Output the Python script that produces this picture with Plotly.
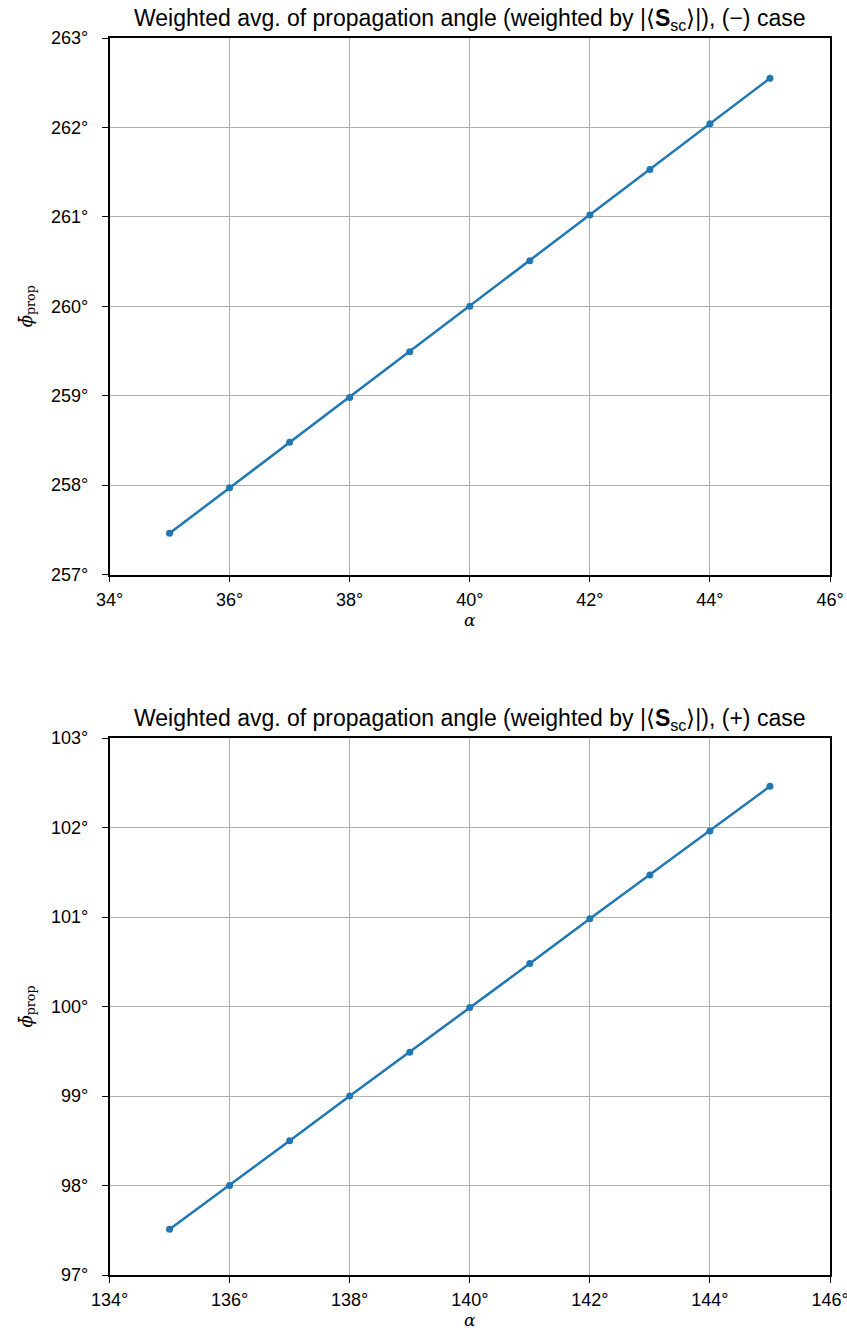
import plotly.graph_objects as go
from plotly.subplots import make_subplots

alpha_minus = [35, 36, 37, 38, 39, 40, 41, 42, 43, 44, 45]
phi_minus = [257.46, 257.97, 258.48, 258.98, 259.49, 260.00, 260.51, 261.02, 261.53, 262.04, 262.55]
alpha_plus = [135, 136, 137, 138, 139, 140, 141, 142, 143, 144, 145]
phi_plus = [97.51, 98.00, 98.50, 99.00, 99.49, 99.99, 100.48, 100.98, 101.47, 101.96, 102.46]

xticks_minus = [34, 36, 38, 40, 42, 44, 46]
yticks_minus = [257, 258, 259, 260, 261, 262, 263]
xticks_plus = [134, 136, 138, 140, 142, 144, 146]
yticks_plus = [97, 98, 99, 100, 101, 102, 103]

titles = [
    "Weighted avg. of propagation angle (weighted by |⟨<b>S</b><sub>sc</sub>⟩|), (−) case",
    "Weighted avg. of propagation angle (weighted by |⟨<b>S</b><sub>sc</sub>⟩|), (+) case",
]

W, H = 847, 1330
color = "#1f77b4"
font = "Liberation Sans"

fig = make_subplots(rows=2, cols=1)
fig.add_trace(go.Scatter(x=alpha_minus, y=phi_minus, mode="lines+markers",
                         line=dict(color=color, width=2.5), marker=dict(size=7, color=color),
                         showlegend=False), row=1, col=1)
fig.add_trace(go.Scatter(x=alpha_plus, y=phi_plus, mode="lines+markers",
                         line=dict(color=color, width=2.5), marker=dict(size=7, color=color),
                         showlegend=False), row=2, col=1)

def px_x(p):
    return p / W

def px_y(p):
    return 1 - p / H

xdom = [px_x(109.5), px_x(830)]
ydoms = [[px_y(574.5), px_y(38)], [px_y(1275), px_y(738)]]

axis_common = dict(showline=True, linecolor="black", linewidth=1.5, mirror=True,
                   ticks="outside", ticklen=6, tickcolor="black", tickwidth=1.2,
                   showgrid=True, gridcolor="#b0b0b0", gridwidth=1,
                   zeroline=False, automargin=False, ticklabeloverflow="allow",
                   tickfont=dict(family=font, size=18, color="black"))

for i, (xt, yt) in enumerate([(xticks_minus, yticks_minus), (xticks_plus, yticks_plus)]):
    xa = "xaxis" if i == 0 else "xaxis2"
    ya = "yaxis" if i == 0 else "yaxis2"
    fig.layout[xa].update(domain=xdom, range=[xt[0], xt[-1]], tickmode="array", tickvals=xt,
                          ticktext=[f"{v}°" for v in xt], ticklabelstandoff=2,
                          title=dict(text="<i>α</i>", font=dict(family="DejaVu Serif", size=17, color="black"), standoff=0),
                          **axis_common)
    fig.layout[ya].update(domain=ydoms[i], range=[yt[0], yt[-1]], tickmode="array", tickvals=yt,
                          ticktext=[f"{v}°" for v in yt], ticklabelstandoff=10,
                          title=dict(text="<i>ϕ̄</i><sub>prop</sub>", font=dict(family="DejaVu Serif", size=18, color="black"), standoff=14),
                          **axis_common)
    fig.add_annotation(text=titles[i], xref="paper", yref="paper",
                       x=(xdom[0] + xdom[1]) / 2, y=ydoms[i][1], yshift=2,
                       xanchor="center", yanchor="bottom", showarrow=False,
                       font=dict(family=font, size=23, color="black"))

fig.update_layout(width=W, height=H, margin=dict(l=0, r=0, t=0, b=0, autoexpand=False),
                  plot_bgcolor="white", paper_bgcolor="white")

fig.write_html("out.html", config={"displayModeBar": False},
               post_script="document.body.style.margin='0';document.body.style.overflow='hidden';")
